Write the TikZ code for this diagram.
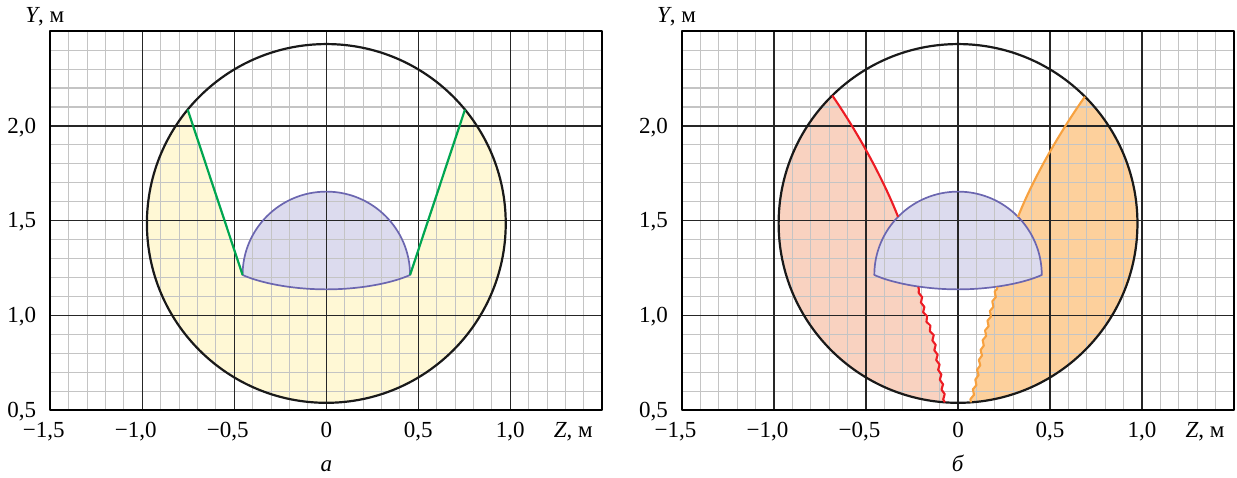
\documentclass[tikz,border=0pt]{standalone}
\usepackage{fontspec}
\setmainfont{Liberation Serif}
\usetikzlibrary{decorations.pathmorphing}

\definecolor{paleyellow}{HTML}{FFF8D5}
\definecolor{palepink}{HTML}{F9D2C0}
\definecolor{paleorange}{HTML}{FDD09C}
\definecolor{domeblue}{HTML}{DCDBEE}
\definecolor{domeedge}{HTML}{6B66B0}
\definecolor{linegreen}{HTML}{00A651}
\definecolor{linered}{HTML}{ED1C24}
\definecolor{lineorange}{HTML}{F7A13F}
\definecolor{gridgray}{HTML}{C4C4C4}

\tikzset{
  finegrid/.style={gridgray, line width=0.55pt},
  majorgrid/.style={black!85, line width=0.7pt},
  frameline/.style={black, line width=1.1pt},
  bigcircle/.style={black!90, line width=1.1pt},
  domefill/.style={fill=domeblue},
  domeline/.style={domeedge, line width=0.85pt},
  wavy/.style={decorate, decoration={snake, amplitude=0.6pt, segment length=5pt}},
  lbl/.style={font=\fontsize{11.5}{13}\selectfont, inner sep=0pt},
}

\begin{document}
\begin{tikzpicture}[x=92pt, y=94.7pt, line join=round]
\useasboundingbox (-1.7734,0.1463) rectangle (4.949,2.6647);

% a: yellow area and dome
\fill[paleyellow] (-0.7534,2.0861) arc[start angle=140.6, end angle=399.4, x radius=0.975, y radius=0.947]
  -- (0.455,1.213) arc[start angle=0, end angle=180, x radius=0.455, y radius=0.44] -- cycle;

% b: pink and orange areas
\begin{scope}[shift={(3.433,0)}]
\fill[palepink] (-0.6834,2.1604) arc[start angle=134.5, end angle=265.8, x radius=0.975, y radius=0.947]
  -- (-0.098,0.692) -- (-0.134,0.87) -- (-0.179,0.993) -- (-0.212,1.134) -- (-0.27,1.35) -- (-0.326,1.52)
  .. controls (-0.39,1.68) and (-0.52,1.93) .. cycle;
\fill[paleorange] (0.6894,2.1546) arc[start angle=45, end angle=-85.9, x radius=0.975, y radius=0.947]
  -- (0.10,0.658) -- (0.129,0.817) -- (0.174,0.993) -- (0.21,1.134) -- (0.27,1.35) -- (0.326,1.52)
  .. controls (0.39,1.68) and (0.52,1.92) .. cycle;
\end{scope}

% both panels: grid, ticks, circle, dome
\foreach \dx/\capt [count=\p] in {0/а, 3.433/б} {
\begin{scope}[shift={(\dx,0)}]
  \path[domefill] (-0.455,1.213) arc[start angle=180, end angle=0, x radius=0.455, y radius=0.44]
    .. controls (0.37,1.175) and (0.2,1.137) .. (0,1.137) .. controls (-0.2,1.137) and (-0.37,1.175) .. cycle;
  \foreach \i in {-14,...,14}
    \draw[finegrid] (\i/10,0.5) -- (\i/10,2.5);
  \foreach \j in {6,...,24}
    \draw[finegrid] (-1.5,\j/10) -- (1.5,\j/10);
  \foreach \z in {-1,-0.5,0,0.5,1}
    \draw[majorgrid] (\z,0.5) -- (\z,2.5);
  \foreach \y in {1,1.5,2}
    \draw[majorgrid] (-1.5,\y) -- (1.5,\y);
  \draw[frameline] (-1.5,0.5) rectangle (1.5,2.5);

  \foreach \y/\t [count=\k] in {0.5/{0,5}, 1/{1,0}, 1.5/{1,5}, 2/{2,0}}
    \node[lbl, anchor=base east] (ytick\p-\k) at (-1.575,\y-0.039) {\t};
  \foreach \z/\t [count=\k] in {-1.5/{\llap{−}1,5}, -1/{\llap{−}1,0}, -0.5/{\llap{−}0,5}, 0/0, 0.5/{0,5}, 1/{1,0}}
    \node[lbl, anchor=base] (ztick\p-\k) at (\z,0.356) {\t};
  \node[lbl, anchor=base] (zname\p) at (1.342,0.356) {\textit{Z}, м};
  \node[lbl, anchor=base] (yname\p) at (-1.53,2.545) {\textit{Y}, м};
  \node[lbl, anchor=base] (caption\p) at (0,0.174) {\textit{\capt}};

  \draw[bigcircle] (0,1.485) circle[x radius=0.975, y radius=0.947];
  \draw[domeline] (-0.455,1.213) arc[start angle=180, end angle=0, x radius=0.455, y radius=0.44]
    .. controls (0.37,1.175) and (0.2,1.137) .. (0,1.137) .. controls (-0.2,1.137) and (-0.37,1.175) .. cycle;
\end{scope}
}

% a: green edges
\draw[linegreen, line width=1.1pt] (-0.7534,2.0861) -- (-0.455,1.213);
\draw[linegreen, line width=1.1pt] (0.7534,2.0861) -- (0.455,1.213);

% b: red and orange edges
\begin{scope}[shift={(3.433,0)}]
\draw[linered, line width=1.05pt] (-0.6834,2.1604) .. controls (-0.52,1.93) and (-0.39,1.68) .. (-0.326,1.52);
\draw[linered, line width=1.05pt, wavy] (-0.0714,0.5405) -- (-0.098,0.692) -- (-0.134,0.87) -- (-0.179,0.993) -- (-0.212,1.134) -- (-0.216,1.15);
\draw[lineorange, line width=1.05pt] (0.6894,2.1546) .. controls (0.52,1.92) and (0.39,1.68) .. (0.326,1.52);
\draw[lineorange, line width=1.05pt, wavy] (0.0697,0.5404) -- (0.10,0.658) -- (0.129,0.817) -- (0.174,0.993) -- (0.21,1.134) -- (0.214,1.15);
\end{scope}
\end{tikzpicture}
\end{document}
